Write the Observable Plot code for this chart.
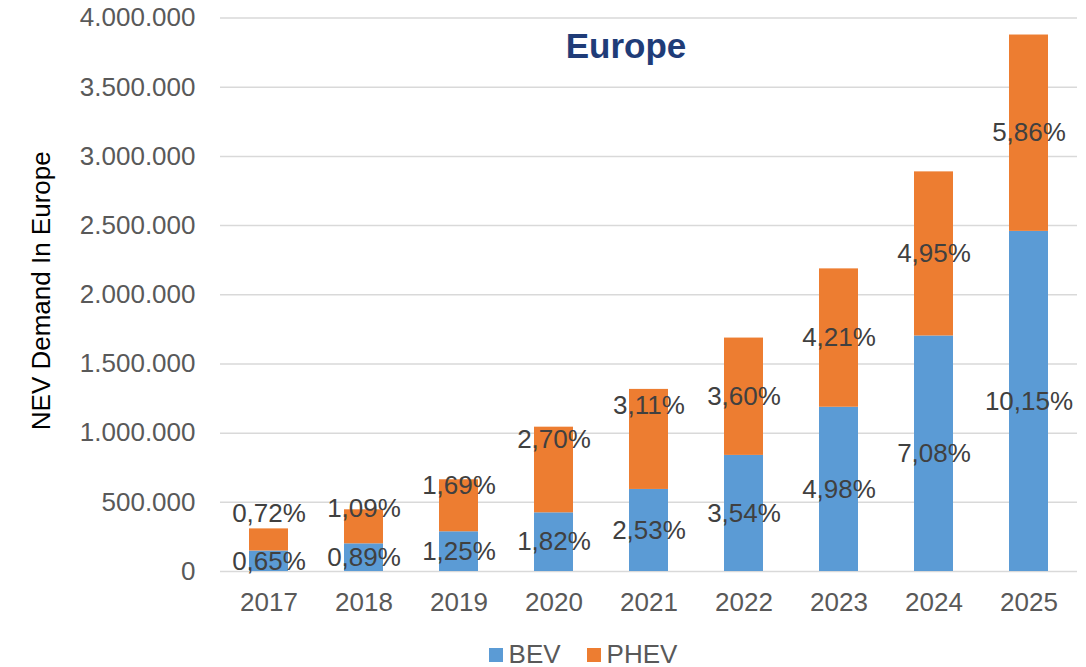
<!DOCTYPE html>
<html>
<head>
<meta charset="utf-8">
<script src="https://cdn.jsdelivr.net/npm/d3@7"></script>
<script src="https://cdn.jsdelivr.net/npm/@observablehq/plot@0.6"></script>
<style>
  html, body { margin: 0; padding: 0; background: #fff; }
  body { width: 1086px; height: 667px; overflow: hidden; font-family: "Liberation Sans", Arial, sans-serif; }
  #legend { display: flex; justify-content: center; gap: 26px; height: 37px; margin-top: 6px; align-items: center; font-size: 26px; color: #595959; padding-left: 80px; }
  #legend .item { display: flex; align-items: center; gap: 6px; }
  #legend .sw { width: 14px; height: 14px; display: inline-block; }
</style>
</head>
<body>
<div id="chart"></div>
<div id="legend"></div>
<script>
// ---- data ----
const years = ["2017", "2018", "2019", "2020", "2021", "2022", "2023", "2024", "2025"];
const bev  = [148000, 200000, 287000, 424000, 593000, 839000, 1187000, 1702000, 2458000];
const phev = [160000, 246000, 376000, 619000, 723000, 848000, 1000000, 1186000, 1419000];
const bevShare  = [0.65, 0.89, 1.25, 1.82, 2.53, 3.54, 4.98, 7.08, 10.15];
const phevShare = [0.72, 1.09, 1.69, 2.70, 3.11, 3.60, 4.21, 4.95, 5.86];
// where the PHEV share labels sit (value units)
const phevLabelAt = [419000, 455000, 622000, 954000, 1195000, 1263000, 1687000, 2295000, 3168000];
const series = ["BEV", "PHEV"];
const colors = ["#5B9BD5", "#ED7D31"];
const yTicks = [0, 500000, 1000000, 1500000, 2000000, 2500000, 3000000, 3500000, 4000000];

const loc = d3.formatLocale({decimal: ",", thousands: ".", grouping: [3], currency: ["", "€"]});
const fmtNum = loc.format(",d");
const fmtPct = v => loc.format(".2f")(v) + "%";

const rows = [];
years.forEach((y, i) => {
  rows.push({year: y, type: "BEV", value: bev[i]});
  rows.push({year: y, type: "PHEV", value: phev[i]});
});
const bevLabels = years.map((y, i) => ({year: y, y: bev[i] / 2, text: fmtPct(bevShare[i])}));
const phevLabels = years.map((y, i) => ({year: y, y: phevLabelAt[i], text: fmtPct(phevShare[i])}));

const chart = Plot.plot({
  width: 1086,
  height: 630,
  marginTop: 17.5,
  marginBottom: 59,
  marginLeft: 220,
  marginRight: 9,
  style: {fontFamily: "'Liberation Sans', Arial, sans-serif", fontSize: "26px", background: "#fff"},
  x: {domain: years, paddingInner: 0.59, paddingOuter: 0.295, label: null},
  y: {domain: [0, 4000000], label: null},
  color: {domain: series, range: colors},
  marks: [
    Plot.ruleY(yTicks, {stroke: "#d9d9d9", strokeWidth: 1.5}),
    Plot.barY(rows, Plot.stackY({x: "year", y: "value", fill: "type", order: series})),
    Plot.text(bevLabels, {x: "year", y: "y", text: "text", fill: "#404040", fontSize: 26}),
    Plot.text(phevLabels, {x: "year", y: "y", text: "text", fill: "#404040", fontSize: 26}),
    Plot.axisX({tickSize: 0, tickPadding: 21, fontSize: 26, color: "#595959", label: null}),
    Plot.axisY({ticks: yTicks, tickSize: 0, tickPadding: 25, tickFormat: fmtNum, fontSize: 26, color: "#595959", label: null}),
    Plot.text(["NEV Demand In Europe"], {frameAnchor: "left", textAnchor: "middle", dx: -179, dy: -4, rotate: -90, fontSize: 26, fill: "#000", text: d => d}),
    Plot.text(["Europe"], {frameAnchor: "top", dx: -23, dy: 15, fontSize: 35, fontWeight: "bold", fill: "#1F3C78", text: d => d})
  ]
});
document.getElementById("chart").appendChild(chart);

const legend = document.getElementById("legend");
series.forEach((s, i) => {
  const item = document.createElement("div");
  item.className = "item";
  const sw = document.createElement("span");
  sw.className = "sw";
  sw.style.background = colors[i];
  const lab = document.createElement("span");
  lab.textContent = s;
  item.appendChild(sw);
  item.appendChild(lab);
  legend.appendChild(item);
});
</script>
</body>
</html>
